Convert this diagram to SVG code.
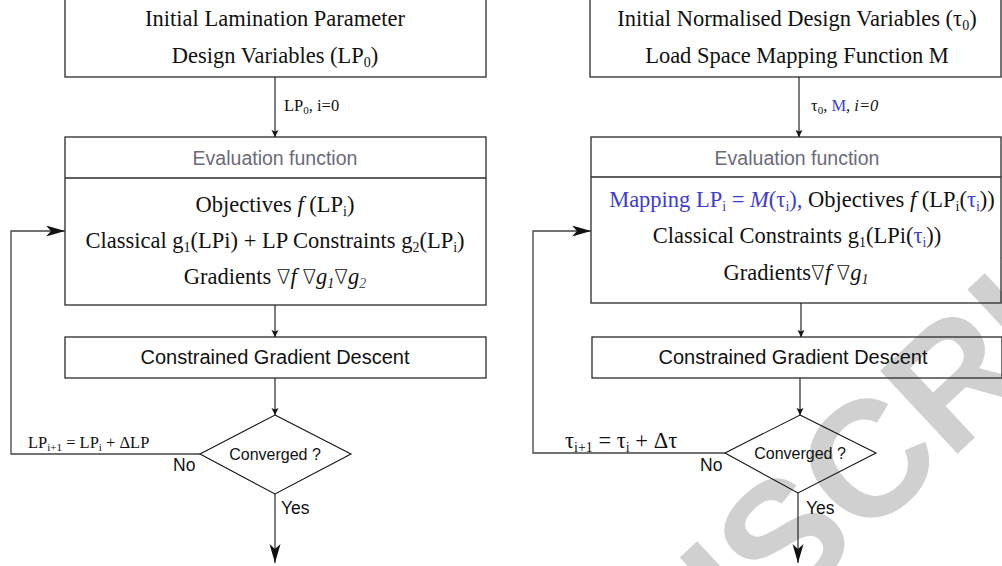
<svg xmlns="http://www.w3.org/2000/svg" width="1002" height="566" viewBox="0 0 1002 566">
  <style>
    .box { fill: none; stroke: #2a2a2a; stroke-width: 1.3; }
    .line { fill: none; stroke: #111; stroke-width: 1.1; }
    .loop { fill: none; stroke: #444; stroke-width: 1.3; }
    .serif { font-family: "Liberation Serif", "Times New Roman", serif; font-size: 22.5px; fill: #111; }
    .lbl { font-family: "Liberation Serif", "Times New Roman", serif; font-size: 16.5px; fill: #111; }
    .sans { font-family: "Liberation Sans", Arial, sans-serif; font-size: 20px; fill: #111; }
    .head { font-family: "Liberation Sans", Arial, sans-serif; font-size: 19.5px; fill: #6a6a78; }
    .small { font-family: "Liberation Sans", Arial, sans-serif; font-size: 16px; fill: #111; }
    .yn { font-family: "Liberation Sans", Arial, sans-serif; font-size: 17.5px; fill: #111; }
    .sub { font-size: 14px; }
    .lsub { font-size: 11px; }
    .blue { fill: #3c3cd2; }
    .it { font-style: italic; }
    .nab { font-family: "DejaVu Sans", sans-serif; font-weight: 200; font-size: 20px; }
    .mark { font-family: "Liberation Sans", Arial, sans-serif; font-weight: bold; font-size: 165px; fill: #d0d0d0; }
  </style>
  <defs>
    <marker id="arr" markerUnits="userSpaceOnUse" markerWidth="8" markerHeight="8" refX="7" refY="3.5" orient="auto">
      <path d="M0,0 L7,3.5 L0,7 L1.5,3.5 z" fill="#111"/>
    </marker>
    <marker id="arrBig" markerUnits="userSpaceOnUse" markerWidth="20" markerHeight="12" refX="19" refY="5.5" orient="auto">
      <path d="M0,0 L19,5.5 L0,11 L5,5.5 z" fill="#111"/>
    </marker>
  </defs>
  <rect width="1002" height="566" fill="#ffffff"/>

  <!-- background watermark -->
  <text class="mark" transform="translate(420 955) rotate(-43)">MANUSCRIPT</text>

  <!-- ===== Left flowchart: lamination parameter design variables ===== -->
  <g id="l-init">
    <rect class="box" x="65" y="-1" width="421" height="78"/>
    <text class="serif" x="275" y="26" text-anchor="middle">Initial Lamination Parameter</text>
    <text class="serif" x="275" y="63" text-anchor="middle">Design Variables (LP<tspan class="sub" dy="4">0</tspan><tspan dy="-4">)</tspan></text>
  </g>
  <g id="l-eval">
    <rect class="box" x="65" y="137" width="421" height="168"/>
    <line class="box" x1="65" y1="178" x2="486" y2="178"/>
    <text class="head" x="275" y="165" text-anchor="middle">Evaluation function</text>
    <text class="serif" x="275" y="212" text-anchor="middle">Objectives <tspan class="it">f</tspan> (LP<tspan class="sub" dy="4">i</tspan><tspan dy="-4">)</tspan></text>
    <text class="serif" x="275" y="248" text-anchor="middle">Classical g<tspan class="sub" dy="4">1</tspan><tspan dy="-4">(LPi) + LP Constraints g</tspan><tspan class="sub" dy="4">2</tspan><tspan dy="-4">(LP</tspan><tspan class="sub" dy="4">i</tspan><tspan dy="-4">)</tspan></text>
    <text class="serif" x="275" y="284" text-anchor="middle">Gradients <tspan class="nab">∇</tspan><tspan class="it">f</tspan> <tspan class="nab">∇</tspan><tspan class="it">g</tspan><tspan class="sub it" dy="4">1</tspan><tspan class="nab" dy="-4">∇</tspan><tspan class="it">g</tspan><tspan class="sub it" dy="4" fill="#555">2</tspan></text>
  </g>
  <g id="l-descent">
    <rect class="box" x="65" y="337" width="421" height="41"/>
    <text class="sans" x="275" y="364" text-anchor="middle">Constrained Gradient Descent</text>
  </g>
  <g id="l-converged">
    <path class="line" d="M275,415 L351,454 L275,494 L200,454 Z" fill="none"/>
    <text class="small" x="275" y="460" text-anchor="middle">Converged ?</text>
  </g>

  <!-- ===== Right flowchart: normalised design variables with load space mapping ===== -->
  <g id="r-init">
    <rect class="box" x="590" y="-1" width="411" height="78"/>
    <text class="serif" x="797" y="26" text-anchor="middle">Initial Normalised Design Variables (τ<tspan class="sub" dy="4">0</tspan><tspan dy="-4">)</tspan></text>
    <text class="serif" x="797" y="63" text-anchor="middle">Load Space Mapping Function M</text>
  </g>
  <g id="r-eval">
    <rect class="box" x="591" y="137" width="410" height="166"/>
    <line class="box" x1="591" y1="177" x2="1001" y2="177"/>
    <text class="head" x="797" y="165" text-anchor="middle">Evaluation function</text>
    <text class="serif" x="802" y="207" text-anchor="middle"><tspan class="blue">Mapping LP</tspan><tspan class="sub blue" dy="4">i</tspan><tspan class="blue" dy="-4"> = </tspan><tspan class="blue it">M</tspan><tspan class="blue">(τ</tspan><tspan class="sub blue" dy="4">i</tspan><tspan class="blue" dy="-4">),</tspan> Objectives <tspan class="it">f</tspan> (LP<tspan class="sub" dy="4">i</tspan><tspan dy="-4">(</tspan><tspan class="blue">τ</tspan><tspan class="sub blue" dy="4">i</tspan><tspan dy="-4">))</tspan></text>
    <text class="serif" x="797" y="243" text-anchor="middle">Classical Constraints g<tspan class="sub" dy="4">1</tspan><tspan dy="-4">(LPi(</tspan><tspan class="blue">τ</tspan><tspan class="sub blue" dy="4">i</tspan><tspan dy="-4">))</tspan></text>
    <text class="serif" x="796" y="280" text-anchor="middle">Gradients<tspan class="nab">∇</tspan><tspan class="it">f</tspan> <tspan class="nab">∇</tspan><tspan class="it">g</tspan><tspan class="sub it" dy="4">1</tspan></text>
  </g>
  <g id="r-descent">
    <rect class="box" x="592" y="337" width="410" height="41"/>
    <text class="sans" x="793" y="364" text-anchor="middle">Constrained Gradient Descent</text>
  </g>
  <g id="r-converged">
    <path class="line" d="M800,415 L876,453 L798,493 L725,453 Z" fill="none"/>
    <text class="small" x="800" y="459" text-anchor="middle">Converged ?</text>
  </g>

  <!-- ===== Connectors ===== -->
  <g id="connectors">
    <!-- left chart -->
    <line class="line" x1="275" y1="77" x2="275" y2="137" marker-end="url(#arr)"/>
    <text class="lbl" x="284" y="111">LP<tspan class="lsub" dy="3">0</tspan><tspan dy="-3">, i=0</tspan></text>
    <line class="line" x1="275" y1="305" x2="275" y2="337" marker-end="url(#arr)"/>
    <line class="line" x1="275" y1="378" x2="275" y2="415" marker-end="url(#arr)"/>
    <line class="line" x1="275" y1="494" x2="275" y2="563" marker-end="url(#arrBig)"/>
    <text class="yn" x="281" y="514">Yes</text>
    <polyline class="loop" points="200,454 11,454 11,231 65,231" marker-end="url(#arrBig)"/>
    <text class="yn" x="173" y="471">No</text>
    <text class="lbl" x="28" y="448">LP<tspan class="lsub" dy="3">i+1</tspan><tspan dy="-3"> = LP</tspan><tspan class="lsub" dy="3">i</tspan><tspan dy="-3"> + ΔLP</tspan></text>

    <!-- right chart -->
    <line class="line" x1="799" y1="77" x2="799" y2="137" marker-end="url(#arr)"/>
    <text class="lbl" x="811" y="111">τ<tspan class="lsub" dy="3">0</tspan><tspan dy="-3">, </tspan><tspan class="blue">M</tspan><tspan class="it">, i=0</tspan></text>
    <line class="line" x1="801" y1="303" x2="801" y2="337" marker-end="url(#arr)"/>
    <line class="line" x1="800" y1="378" x2="800" y2="415" marker-end="url(#arr)"/>
    <line class="line" x1="798" y1="493" x2="798" y2="563" marker-end="url(#arrBig)"/>
    <text class="yn" x="806" y="514">Yes</text>
    <polyline class="loop" points="725,453 533,453 533,231 591,231" marker-end="url(#arrBig)"/>
    <text class="yn" x="700" y="471">No</text>
    <text class="serif" x="565" y="448">τ<tspan class="sub" dy="4">i+1</tspan><tspan dy="-4"> = τ</tspan><tspan class="sub" dy="4">i</tspan><tspan dy="-4"> + Δτ</tspan></text>
  </g>
</svg>
